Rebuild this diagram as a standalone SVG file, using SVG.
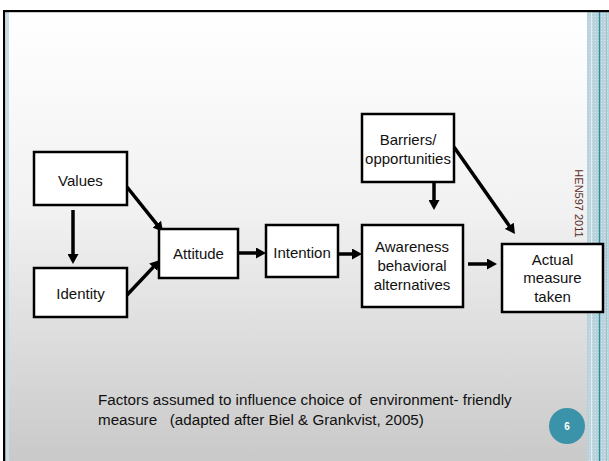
<svg xmlns="http://www.w3.org/2000/svg" width="609" height="461" viewBox="0 0 609 461">
  <defs>
    <linearGradient id="slideBg" x1="0" y1="0" x2="0" y2="1">
      <stop offset="0" stop-color="#ffffff"/>
      <stop offset="0.45" stop-color="#f1f1f1"/>
      <stop offset="1" stop-color="#c9c9c9"/>
    </linearGradient>
    <pattern id="dots" width="3" height="3" patternUnits="userSpaceOnUse">
      <rect width="3" height="3" fill="#b9d3dc"/>
      <rect x="1" y="1" width="1" height="1" fill="#d3e4ea"/>
    </pattern>
    <marker id="head" markerUnits="userSpaceOnUse" markerWidth="10" markerHeight="11" refX="5" refY="5.5" orient="auto">
      <path d="M0,0 L10,5.5 L0,11 z" fill="#000"/>
    </marker>
  </defs>
  <style>
    .box { fill: #ffffff; stroke: #000000; stroke-width: 2.5; }
    .lbl { font-family: "Liberation Sans", Arial, sans-serif; font-size: 15px; fill: #111111; text-anchor: middle; }
    .arrow { fill: none; stroke: #000000; stroke-width: 3.5; marker-end: url(#head); }
    .caption { font-family: "Liberation Sans", Arial, sans-serif; font-size: 15.2px; fill: #111111; white-space: pre; }
  </style>

  <!-- slide frame -->
  <rect x="0" y="0" width="609" height="461" fill="#ffffff"/>
  <rect x="4" y="11" width="605" height="450" fill="url(#slideBg)"/>
  <rect x="6" y="12" width="3" height="449" fill="#c6dde5"/>
  <rect x="587" y="12" width="22" height="449" fill="url(#dots)"/>
  <rect x="591" y="12" width="1" height="449" fill="#e2eef2"/>
  <rect x="598.8" y="12" width="1.4" height="449" fill="#2b8aa0"/>
  <rect x="606" y="12" width="1" height="449" fill="#9fc2cd"/>
  <rect x="3" y="10" width="606" height="2.2" fill="#000000"/>
  <rect x="3" y="10" width="2.2" height="451" fill="#000000"/>

  <!-- connectors -->
  <g id="connectors">
    <line class="arrow" x1="73" y1="210" x2="73" y2="259"/>
    <line class="arrow" x1="127" y1="187" x2="159.9" y2="228.1"/>
    <line class="arrow" x1="127" y1="295" x2="156.6" y2="263.6"/>
    <line class="arrow" x1="238" y1="253" x2="261" y2="253"/>
    <line class="arrow" x1="338" y1="254" x2="357" y2="254"/>
    <line class="arrow" x1="434" y1="182" x2="434" y2="205"/>
    <line class="arrow" x1="468" y1="264" x2="492" y2="264"/>
    <line class="arrow" x1="454" y1="147" x2="512.1" y2="229.9"/>
  </g>

  <!-- nodes -->
  <g id="values">
    <rect class="box" x="34" y="152" width="93" height="53"/>
    <text class="lbl" x="80.5" y="185.5">Values</text>
  </g>
  <g id="identity">
    <rect class="box" x="34" y="268" width="93" height="49"/>
    <text class="lbl" x="80.5" y="298.5">Identity</text>
  </g>
  <g id="attitude">
    <rect class="box" x="159" y="229" width="79" height="49"/>
    <text class="lbl" x="198.5" y="259">Attitude</text>
  </g>
  <g id="intention">
    <rect class="box" x="266" y="225" width="72" height="52"/>
    <text class="lbl" x="302" y="257.5">Intention</text>
  </g>
  <g id="barriers">
    <rect class="box" x="362" y="114" width="92" height="68"/>
    <text class="lbl" x="408" y="145">Barriers/</text>
    <text class="lbl" x="408" y="163.5">opportunities</text>
  </g>
  <g id="awareness">
    <rect class="box" x="362" y="225" width="101" height="82"/>
    <text class="lbl" x="412" y="252">Awareness</text>
    <text class="lbl" x="412" y="271">behavioral</text>
    <text class="lbl" x="412" y="289.5">alternatives</text>
  </g>
  <g id="actual">
    <rect class="box" x="502" y="244" width="101" height="68"/>
    <text class="lbl" x="552.5" y="264.5">Actual</text>
    <text class="lbl" x="552.5" y="283">measure</text>
    <text class="lbl" x="552.5" y="301.5">taken</text>
  </g>

  <!-- footer text -->
  <text x="0" y="0" transform="translate(575 203.5) rotate(90)" font-family="Liberation Sans, Arial, sans-serif" font-size="11" fill="#5a2e28" text-anchor="middle">HEN597 2011</text>
  <text class="caption" x="98" y="405" xml:space="preserve">Factors assumed to influence choice of  environment- friendly</text>
  <text class="caption" x="98" y="425" xml:space="preserve">measure   (adapted after Biel &amp; Grankvist, 2005)</text>
  <circle cx="567" cy="426" r="18" fill="#3a93a8"/>
  <text x="567" y="430" font-family="Liberation Sans, Arial, sans-serif" font-size="10" font-weight="bold" fill="#ffffff" text-anchor="middle">6</text>
</svg>
